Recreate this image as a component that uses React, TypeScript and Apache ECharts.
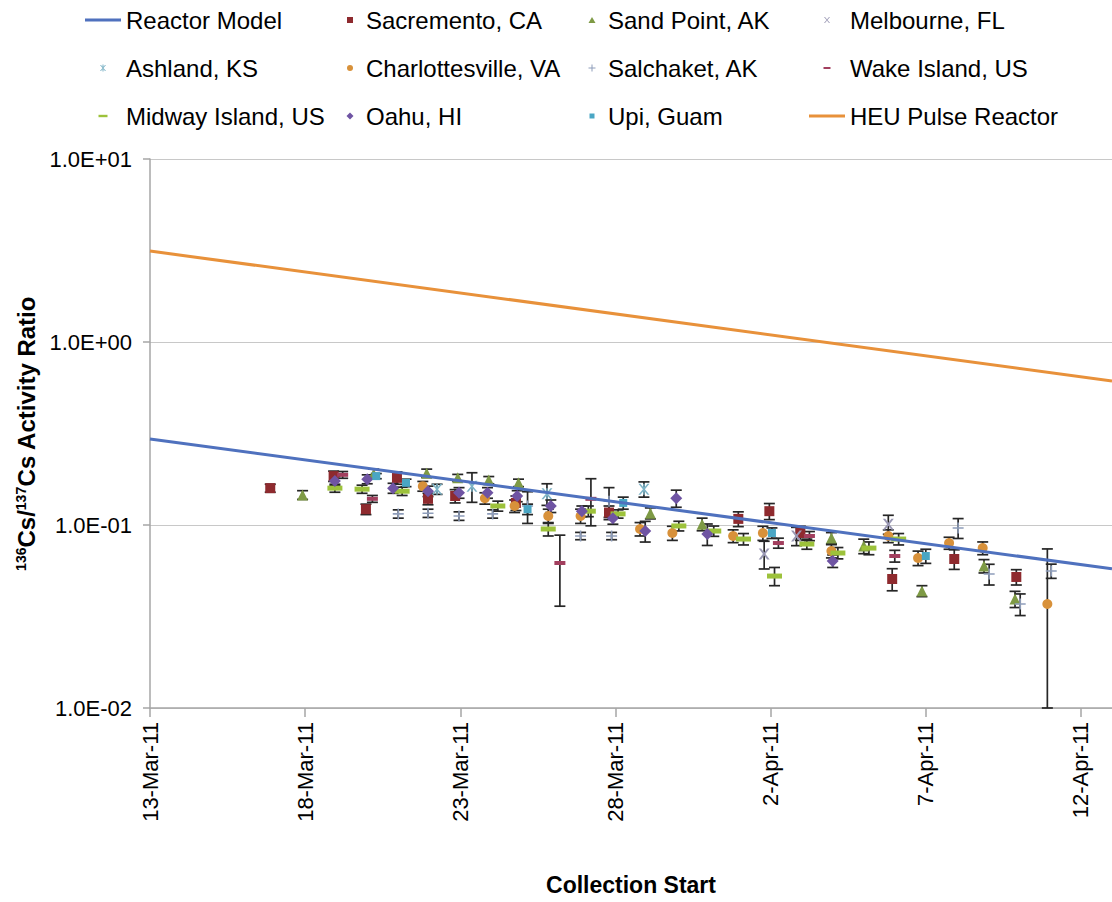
import React, { useEffect, useRef } from 'react';
import * as echarts from 'echarts';

// ---------- data ----------
const xTickLabels = ['13-Mar-11', '18-Mar-11', '23-Mar-11', '28-Mar-11', '2-Apr-11', '7-Apr-11', '12-Apr-11'];
const yTickLabels = ['1.0E-02', '1.0E-01', '1.0E+00', '1.0E+01'];

const lineDates = ['2011-03-13T00', '2011-04-13T00'];
const reactorModel = [0.295, 0.0576];
const heuPulseReactor = [3.14, 0.613];

// [collection start, 136Cs/137Cs ratio, 1-sigma uncertainty]
const sacramento: [string, number, number][] = [
  ['2011-03-16T21', 0.159, 0.008], ['2011-03-18T22', 0.185, 0.012], ['2011-03-19T23', 0.122, 0.008],
  ['2011-03-20T23', 0.181, 0.014], ['2011-03-21T23', 0.139, 0.010], ['2011-03-22T20', 0.144, 0.012],
  ['2011-03-24T19', 0.132, 0.012], ['2011-03-27T19', 0.117, 0.010], ['2011-03-31T23', 0.108, 0.010],
  ['2011-04-01T23', 0.119, 0.012], ['2011-04-02T23', 0.0904, 0.008], ['2011-04-05T22', 0.0507, 0.007],
  ['2011-04-07T22', 0.0652, 0.008], ['2011-04-09T22', 0.052, 0.005],
];
const sandPoint: [string, number, number][] = [
  ['2011-03-17T22', 0.146, 0.008], ['2011-03-20T05', 0.190, 0.012], ['2011-03-21T22', 0.192, 0.010],
  ['2011-03-22T22', 0.181, 0.008], ['2011-03-23T22', 0.176, 0.008], ['2011-03-24T21', 0.170, 0.008],
  ['2011-03-29T03', 0.116, 0.008], ['2011-03-30T19', 0.101, 0.008], ['2011-04-03T23', 0.0849, 0.006],
  ['2011-04-05T00', 0.0767, 0.007], ['2011-04-06T21', 0.0436, 0.003], ['2011-04-08T21', 0.0597, 0.005],
  ['2011-04-09T21', 0.0394, 0.004],
];
const melbourne: [string, number, number][] = [
  ['2011-04-01T19', 0.0695, 0.012], ['2011-04-02T20', 0.0871, 0.010], ['2011-04-05T19', 0.101, 0.012],
];
const ashland: [string, number, number][] = [
  ['2011-03-22T06', 0.157, 0.010], ['2011-03-23T09', 0.163, 0.030], ['2011-03-25T19', 0.148, 0.020],
  ['2011-03-28T22', 0.157, 0.015],
];
const charlottesville: [string, number, number][] = [
  ['2011-03-21T19', 0.163, 0.010], ['2011-03-23T19', 0.140, 0.010], ['2011-03-24T18', 0.127, 0.010],
  ['2011-03-25T20', 0.112, 0.010], ['2011-03-26T21', 0.112, 0.010], ['2011-03-28T19', 0.0951, 0.008],
  ['2011-03-29T20', 0.0904, 0.008], ['2011-03-31T19', 0.0871, 0.007], ['2011-04-01T18', 0.0904, 0.008],
  ['2011-04-03T23', 0.0721, 0.006], ['2011-04-05T19', 0.0871, 0.007], ['2011-04-06T18', 0.066, 0.006],
  ['2011-04-07T18', 0.0797, 0.006], ['2011-04-08T20', 0.0748, 0.006], ['2011-04-10T22', 0.037, 0.037],
];
const salchaket: [string, number, number][] = [
  ['2011-03-21T00', 0.115, 0.006], ['2011-03-21T23', 0.116, 0.006], ['2011-03-22T23', 0.112, 0.006],
  ['2011-03-24T01', 0.115, 0.006], ['2011-03-25T04', 0.127, 0.025], ['2011-03-26T21', 0.0871, 0.004],
  ['2011-03-27T19', 0.135, 0.025], ['2011-03-27T21', 0.0871, 0.004], ['2011-04-08T01', 0.0964, 0.012],
  ['2011-04-09T01', 0.054, 0.007], ['2011-04-10T01', 0.037, 0.005], ['2011-04-11T01', 0.0561, 0.005],
];
const wakeIsland: [string, number, number][] = [
  ['2011-03-19T05', 0.188, 0.008], ['2011-03-20T04', 0.139, 0.006], ['2011-03-26T05', 0.062, 0.026],
  ['2011-03-27T05', 0.139, 0.040], ['2011-04-02T06', 0.0797, 0.005], ['2011-04-03T06', 0.0871, 0.005],
  ['2011-04-06T00', 0.0677, 0.005],
];
const midwayIsland: [string, number, number][] = [
  ['2011-03-18T23', 0.159, 0.008], ['2011-03-19T20', 0.157, 0.008], ['2011-03-21T03', 0.153, 0.008],
  ['2011-03-24T05', 0.127, 0.008], ['2011-03-25T20', 0.0951, 0.008], ['2011-03-27T03', 0.119, 0.008],
  ['2011-03-28T02', 0.115, 0.006], ['2011-03-30T01', 0.0988, 0.006], ['2011-03-31T04', 0.0927, 0.006],
  ['2011-04-01T03', 0.0838, 0.006], ['2011-04-02T03', 0.0526, 0.006], ['2011-04-03T04', 0.0787, 0.005],
  ['2011-04-04T04', 0.0703, 0.005], ['2011-04-05T04', 0.0748, 0.006], ['2011-04-06T03', 0.0838, 0.006],
];
const oahu: [string, number, number][] = [
  ['2011-03-18T23', 0.174, 0.010], ['2011-03-20T00', 0.178, 0.010], ['2011-03-20T20', 0.159, 0.010],
  ['2011-03-21T23', 0.153, 0.010], ['2011-03-22T23', 0.150, 0.010], ['2011-03-23T21', 0.150, 0.010],
  ['2011-03-24T20', 0.144, 0.010], ['2011-03-25T22', 0.127, 0.010], ['2011-03-26T22', 0.119, 0.008],
  ['2011-03-27T22', 0.109, 0.008], ['2011-03-28T23', 0.0927, 0.012], ['2011-03-29T23', 0.140, 0.015],
  ['2011-03-30T23', 0.0893, 0.012], ['2011-04-04T00', 0.0636, 0.005],
];
const upiGuam: [string, number, number][] = [
  ['2011-03-20T07', 0.185, 0.006], ['2011-03-21T06', 0.170, 0.008], ['2011-03-25T04', 0.122, 0.008],
  ['2011-03-28T06', 0.132, 0.010], ['2011-04-02T01', 0.0904, 0.006], ['2011-04-07T00', 0.0677, 0.006],
];

// ---------- helpers / styles ----------
const START = Date.UTC(2011, 2, 13);
const dayOf = (s: string) => (Date.parse(s + ':00Z') - START) / 86400000;
const FONT = "'Liberation Sans', Arial, sans-serif";

const PX = 'path://M0,0L2.2,0L10,10L7.8,10Z M7.8,0L10,0L2.2,10L0,10Z';
const PPLUS = 'path://M0,4.3H10V5.7H0Z M4.3,0H5.7V10H4.3Z';
const PAST = 'path://M0,0L1.8,0L10,10L8.2,10Z M8.2,0L10,0L1.8,10L0,10Z M4.3,0H5.7V10H4.3Z';

type Kind = 'line' | 'square' | 'tri' | 'x' | 'ast' | 'circle' | 'plus' | 'dashS' | 'dashL' | 'diamond' | 'sqS';
function icon(kind: Kind, w: number): string {
  const c = w / 2;
  let s = '';
  switch (kind) {
    case 'line': s = `M0,2.5H${w}V5.5H0Z`; break;
    case 'square': s = `M${c - 3},1h6v6h-6Z`; break;
    case 'sqS': s = `M${c - 2.5},1.5h5v5h-5Z`; break;
    case 'tri': s = `M${c},1L${c + 3.5},7L${c - 3.5},7Z`; break;
    case 'diamond': s = `M${c},0.5L${c + 3.5},4L${c},7.5L${c - 3.5},4Z`; break;
    case 'circle': s = `M${c - 3},4a3,3 0 1,0 6,0a3,3 0 1,0 -6,0Z`; break;
    case 'dashS': s = `M${c - 3.5},3h7v2h-7Z`; break;
    case 'dashL': s = `M${c - 4.5},2.8h9v2.4h-9Z`; break;
    case 'plus': s = `M${c - 3.5},3.5h7v1h-7Z M${c - 0.5},0.5h1v7h-1Z`; break;
    case 'x': s = `M${c - 3},1L${c - 2},1L${c + 3},7L${c + 2},7Z M${c + 2},1L${c + 3},1L${c - 2},7L${c - 3},7Z`; break;
    case 'ast': s = `M${c - 3},1L${c - 2},1L${c + 3},7L${c + 2},7Z M${c + 2},1L${c + 3},1L${c - 2},7L${c - 3},7Z M${c - 0.5},0.5h1v7h-1Z`; break;
  }
  return `path://M0,0M${w},8${s}`;
}

interface Station {
  name: string; data: [string, number, number][]; color: string;
  symbol: string; size: number | number[]; kind: Kind;
}
const stations: Station[] = [
  { name: 'Sacremento, CA', data: sacramento, color: '#8E2A2E', symbol: 'rect', size: 10, kind: 'square' },
  { name: 'Sand Point, AK', data: sandPoint, color: '#7E9A45', symbol: 'triangle', size: 11, kind: 'tri' },
  { name: 'Melbourne, FL', data: melbourne, color: '#9A98B4', symbol: PX, size: 11, kind: 'x' },
  { name: 'Ashland, KS', data: ashland, color: '#7DB3C6', symbol: PAST, size: 11, kind: 'ast' },
  { name: 'Charlottesville, VA', data: charlottesville, color: '#D8913A', symbol: 'circle', size: 10, kind: 'circle' },
  { name: 'Salchaket, AK', data: salchaket, color: '#8E9DBA', symbol: PPLUS, size: 11, kind: 'plus' },
  { name: 'Wake Island, US', data: wakeIsland, color: '#A23F5E', symbol: 'rect', size: [11, 4], kind: 'dashS' },
  { name: 'Midway Island, US', data: midwayIsland, color: '#9DC23B', symbol: 'rect', size: [15, 5], kind: 'dashL' },
  { name: 'Oahu, HI', data: oahu, color: '#6F54A3', symbol: 'diamond', size: 12, kind: 'diamond' },
  { name: 'Upi, Guam', data: upiGuam, color: '#4AA6C4', symbol: 'rect', size: 8, kind: 'sqS' },
];
const REACTOR_COLOR = '#4F71BE';
const HEU_COLOR = '#E8913A';

const byName = (n: string) => stations.find((s) => s.name === n)!;
const legendItem = (n: string, w: number) => {
  const s = byName(n);
  return { name: n, icon: icon(s.kind, w), itemStyle: { color: s.color, borderWidth: 0 } };
};

export default function App() {
  const ref = useRef<HTMLDivElement>(null);
  useEffect(() => {
    if (!ref.current) return;
    const chart = echarts.init(ref.current, undefined, { renderer: 'svg' });

    const errData: number[][] = [];
    stations.forEach((s) =>
      s.data.forEach(([d, v, e]) => errData.push([dayOf(d), v, Math.max(v - e, 0.01), v + e]))
    );

    const legendBase = {
      orient: 'vertical' as const, top: 8, padding: 0, itemGap: 24, itemHeight: 8,
      selectedMode: false, symbolKeepAspect: true,
      textStyle: { fontSize: 24, fontFamily: FONT, color: '#000', lineHeight: 24 },
    };

    const option: any = {
      animation: false,
      backgroundColor: '#fff',
      grid: { left: 150, right: 0, top: 159, bottom: 194, containLabel: false },
      legend: [
        { ...legendBase, left: 85, itemWidth: 36, data: [
          { name: 'Reactor Model', icon: icon('line', 36), itemStyle: { color: REACTOR_COLOR, borderWidth: 0 } },
          legendItem('Ashland, KS', 36), legendItem('Midway Island, US', 36)] },
        { ...legendBase, left: 339, itemWidth: 22, data: [
          legendItem('Sacremento, CA', 22), legendItem('Charlottesville, VA', 22), legendItem('Oahu, HI', 22)] },
        { ...legendBase, left: 581, itemWidth: 22, data: [
          legendItem('Sand Point, AK', 22), legendItem('Salchaket, AK', 22), legendItem('Upi, Guam', 22)] },
        { ...legendBase, left: 809, itemWidth: 36, data: [
          legendItem('Melbourne, FL', 36), legendItem('Wake Island, US', 36),
          { name: 'HEU Pulse Reactor', icon: icon('line', 36), itemStyle: { color: HEU_COLOR, borderWidth: 0 } }] },
      ],
      xAxis: {
        type: 'value', min: 0, max: 31, interval: 5,
        axisLine: { show: true, lineStyle: { color: '#A6A6A6', width: 1.5 } },
        axisTick: { show: true, length: 9, lineStyle: { color: '#A6A6A6', width: 1.5 }, customValues: [0, 5, 10, 15, 20, 25, 30] },
        splitLine: { show: false },
        axisLabel: {
          customValues: [0, 5, 10, 15, 20, 25, 30],
          rotate: 90, fontSize: 22, fontFamily: FONT, color: '#000', margin: 14,
          formatter: (v: number) => (Math.round(v) % 5 === 0 ? xTickLabels[Math.round(v) / 5] ?? '' : ''),
        },
        name: 'Collection Start', nameLocation: 'middle', nameGap: 165,
        nameTextStyle: { fontSize: 23, fontWeight: 'bold', fontFamily: FONT, color: '#000' },
      },
      yAxis: {
        type: 'log', logBase: 10, min: 0.01, max: 10,
        axisLine: { show: true, lineStyle: { color: '#A6A6A6', width: 1.5 } },
        axisTick: { show: true, length: 7, lineStyle: { color: '#A6A6A6', width: 1.5 } },
        minorTick: { show: false },
        splitLine: { show: true, lineStyle: { color: '#C8C8C8', width: 1.2 } },
        axisLabel: {
          fontSize: 22, fontFamily: FONT, color: '#000', margin: 18,
          formatter: (v: number) => yTickLabels[Math.round(Math.log10(v)) + 2] ?? '',
        },
        name: '{sup|136}Cs/{sup|137}Cs Activity Ratio',
        nameLocation: 'middle', nameGap: 108,
        nameTextStyle: {
          fontSize: 24, fontWeight: 'bold', fontFamily: FONT, color: '#000',
          rich: { sup: { fontSize: 14, fontWeight: 'bold', fontFamily: FONT, color: '#000', verticalAlign: 'top', lineHeight: 26 } },
        },
      },
      series: [
        {
          type: 'custom', name: 'error bars', silent: true,
          data: errData, encode: { x: 0, y: [1, 2, 3] },
          renderItem: (_p: any, api: any) => {
            const x = api.value(0);
            const lo = api.coord([x, api.value(2)]);
            const hi = api.coord([x, api.value(3)]);
            const hw = 5.5;
            const st = { stroke: '#262626', lineWidth: 1.7 };
            return {
              type: 'group',
              children: [
                { type: 'line', shape: { x1: lo[0], y1: lo[1], x2: hi[0], y2: hi[1] }, style: st },
                { type: 'line', shape: { x1: lo[0] - hw, y1: lo[1], x2: lo[0] + hw, y2: lo[1] }, style: st },
                { type: 'line', shape: { x1: hi[0] - hw, y1: hi[1], x2: hi[0] + hw, y2: hi[1] }, style: st },
              ],
            };
          },
        },
        ...stations.map((s) => ({
          type: 'scatter', name: s.name,
          data: s.data.map(([d, v]) => [dayOf(d), v]),
          symbol: s.symbol, symbolSize: s.size,
          itemStyle: { color: s.color, opacity: 1 },
        })),
        {
          type: 'line', name: 'Reactor Model',
          data: lineDates.map((d, i) => [dayOf(d), reactorModel[i]]),
          showSymbol: false, symbol: 'none', lineStyle: { color: REACTOR_COLOR, width: 3 },
          itemStyle: { color: REACTOR_COLOR }, z: 3,
        },
        {
          type: 'line', name: 'HEU Pulse Reactor',
          data: lineDates.map((d, i) => [dayOf(d), heuPulseReactor[i]]),
          showSymbol: false, symbol: 'none', lineStyle: { color: HEU_COLOR, width: 3 },
          itemStyle: { color: HEU_COLOR }, z: 3,
        },
      ],
    };
    chart.setOption(option);
    return () => chart.dispose();
  }, []);

  return (
    <div
      ref={ref}
      style={{ position: 'fixed', left: 0, top: 0, width: 1112, height: 902, background: '#fff' }}
    />
  );
}
